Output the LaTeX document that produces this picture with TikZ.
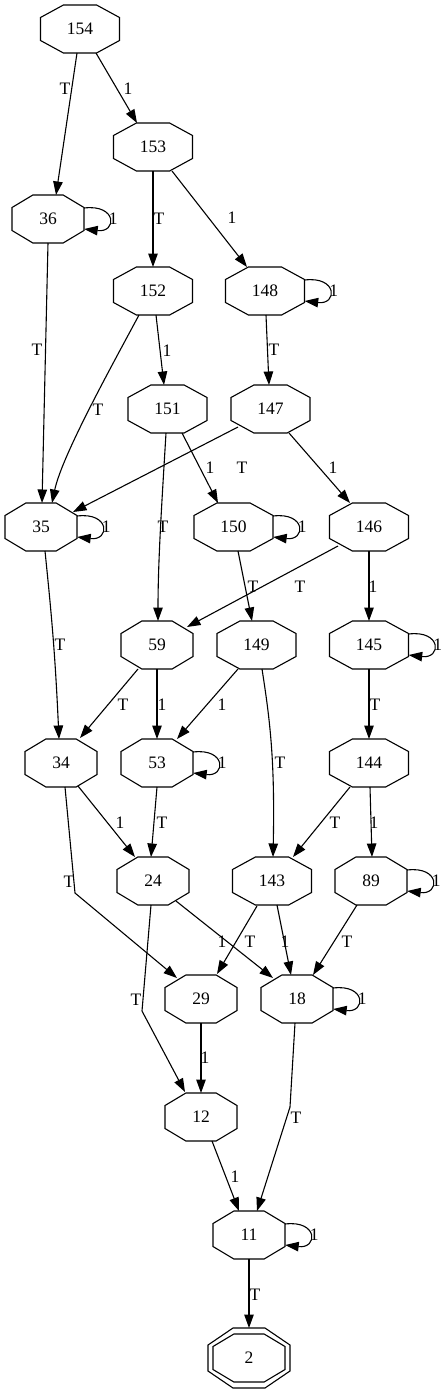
\documentclass[tikz,border=0pt]{standalone}
\usepackage{fontspec}
\setmainfont{Liberation Serif}
\usetikzlibrary{arrows.meta}
\begin{document}
\begin{tikzpicture}[x=1pt,y=-1pt,
  o3/.style={draw=none,minimum width=79pt,minimum height=48pt,inner sep=0pt,font=\fontsize{17.5}{20}\selectfont},
  o2/.style={o3,minimum width=72pt},
  octl/.style={line width=1.1pt,line join=miter},
  conn/.style={draw,line width=1.1pt,-{Triangle[length=13.5pt,width=9.5pt]}},
  lbl/.style={inner sep=0pt,font=\fontsize{17.5}{20}\selectfont}]
\useasboundingbox (0,0) rectangle (447,1393);
% nodes
\node[o3] (n154) at (80,29) {154};
\node[o3] (n153) at (153,147) {153};
\node[o2] (n36) at (48,219) {36};
\node[o3] (n152) at (153,291) {152};
\node[o3] (n148) at (265,291) {148};
\node[o3] (n151) at (167.5,409) {151};
\node[o3] (n147) at (270.5,409) {147};
\node[o2] (n35) at (41,527) {35};
\node[o3] (n150) at (233.5,527) {150};
\node[o3] (n146) at (369,527) {146};
\node[o2] (n59) at (157,645) {59};
\node[o3] (n149) at (256.5,645) {149};
\node[o3] (n145) at (369,645) {145};
\node[o2] (n34) at (61,763) {34};
\node[o2] (n53) at (157,763) {53};
\node[o3] (n144) at (369,763) {144};
\node[o2] (n24) at (153,881) {24};
\node[o3] (n143) at (272,881) {143};
\node[o2] (n89) at (371,881) {89};
\node[o2] (n29) at (201,999) {29};
\node[o2] (n18) at (297,999) {18};
\node[o2] (n12) at (201,1117) {12};
\node[o2] (n11) at (249,1235) {11};
\node[o2,minimum width=82pt,minimum height=60pt] (n2) at (249,1358) {2};
% octagon outlines
\foreach \n/\w in {n154/39.5,n153/39.5,n36/36,n152/39.5,n148/39.5,n151/39.5,n147/39.5,n35/36,n150/39.5,n146/39.5,n59/36,n149/39.5,n145/39.5,n34/36,n53/36,n144/39.5,n24/36,n143/39.5,n89/36,n29/36,n18/36,n12/36,n11/36,n2/36}{
  \draw[octl,shift={(\n.center)}] (-\w,-11.5) -- (-0.42*\w,-24) -- (0.42*\w,-24) -- (\w,-11.5) -- (\w,11.5) -- (0.42*\w,24) -- (-0.42*\w,24) -- (-\w,11.5) -- cycle;
}
\draw[octl,shift={(n2.center)}] (-41,-13) -- (-16,-30) -- (16,-30) -- (41,-13) -- (41,13) -- (16,30) -- (-16,30) -- (-41,13) -- cycle;
% self loops
\foreach \n in {n36,n148,n35,n150,n145,n53,n89,n18,n11}{
  \draw[conn] ([shift={(0,-11)}]\n.east) .. controls +(33,-4) and +(33,4) .. ([shift={(0,10)}]\n.east)
    node[lbl] (l\n) at ([shift={(29,0)}]\n.east) {1};
}
% edges
\draw[conn] ([shift={(-3,24)}]n154.center) -- ([shift={(8,-24)}]n36.center) node[lbl] (e1) at (65,89) {T};
\draw[conn] ([shift={(16,24)}]n154.center) -- ([shift={(-16,-24)}]n153.center) node[lbl] (e2) at (128,89) {1};
\draw[conn] ([shift={(0,24)}]n153.center) -- ([shift={(0,-24)}]n152.center) node[lbl] (e3) at (159,219) {T};
\draw[conn] ([shift={(19,24)}]n153.center) -- ([shift={(-18,-24)}]n148.center) node[lbl] (e4) at (232,218) {1};
\draw[conn] ([shift={(0,24)}]n36.center) -- ([shift={(1,-24)}]n35.center) node[lbl] (e5) at (37,350) {T};
\draw[conn] ([shift={(-14,24)}]n152.center) .. controls (115,360) and (62,455) .. ([shift={(11,-24)}]n35.center) node[lbl] (e6) at (98,410) {T};
\draw[conn] ([shift={(3,24)}]n152.center) -- ([shift={(-3.5,-24)}]n151.center) node[lbl] (e7) at (167,351) {1};
\draw[conn] ([shift={(1,24)}]n148.center) -- ([shift={(-1.5,-24)}]n147.center) node[lbl] (e8) at (274,350) {T};
\draw[conn] ([shift={(-32.5,18)}]n147.center) -- ([shift={(32,-15)}]n35.center) node[lbl] (e9) at (242,468) {T};
\draw[conn] ([shift={(-1.5,24)}]n151.center) .. controls (162,500) and (158,560) .. ([shift={(1,-24)}]n59.center) node[lbl] (e10) at (163,527) {T};
\draw[conn] ([shift={(14.5,24)}]n151.center) -- ([shift={(-15.5,-24)}]n150.center) node[lbl] (e11) at (210,468) {1};
\draw[conn] ([shift={(18.5,24)}]n147.center) -- ([shift={(-19,-24)}]n146.center) node[lbl] (e12) at (333,468) {1};
\draw[conn] ([shift={(4.5,24)}]n150.center) -- ([shift={(-4.5,-24)}]n149.center) node[lbl] (e13) at (253,587) {T};
\draw[conn] ([shift={(-31,19)}]n146.center) -- ([shift={(30,-18)}]n59.center) node[lbl] (e14) at (300,587) {T};
\draw[conn] ([shift={(0,24)}]n146.center) -- ([shift={(0,-24)}]n145.center) node[lbl] (e15) at (373,587) {1};
\draw[conn] ([shift={(4,24)}]n35.center) .. controls (51,610) and (55,650) .. ([shift={(-2,-24)}]n34.center) node[lbl] (e16) at (60,645) {T};
\draw[conn] ([shift={(-19,24)}]n59.center) -- ([shift={(19,-25)}]n34.center) node[lbl] (e17) at (123,705) {T};
\draw[conn] ([shift={(0,24)}]n59.center) -- ([shift={(0,-24)}]n53.center) node[lbl] (e18) at (162,705) {1};
\draw[conn] ([shift={(-18.5,24)}]n149.center) -- ([shift={(20,-24)}]n53.center) node[lbl] (e19) at (222,705) {1};
\draw[conn] ([shift={(5.5,24)}]n149.center) .. controls (270,720) and (275,760) .. ([shift={(1,-24)}]n143.center) node[lbl] (e20) at (280,763) {T};
\draw[conn] ([shift={(0,24)}]n145.center) -- ([shift={(0,-24)}]n144.center) node[lbl] (e21) at (375,705) {T};
\draw[conn] ([shift={(17,23)}]n34.center) -- ([shift={(-18,-24)}]n24.center) node[lbl] (e22) at (120,823) {1};
\draw[conn] ([shift={(0,24)}]n53.center) -- ([shift={(-2,-24)}]n24.center) node[lbl] (e23) at (162,823) {T};
\draw[conn] ([shift={(-19,24)}]n144.center) -- ([shift={(21,-24)}]n143.center) node[lbl] (e24) at (335,823) {T};
\draw[conn] ([shift={(1,24)}]n144.center) -- ([shift={(1,-24)}]n89.center) node[lbl] (e25) at (374,823) {1};
\draw[conn] ([shift={(4,24)}]n34.center) -- (75,893) -- ([shift={(-24,-21)}]n29.center) node[lbl] (e26) at (69,882) {T};
\draw[conn] ([shift={(-2,24)}]n24.center) -- (142,1011) -- ([shift={(-16,-25)}]n12.center) node[lbl] (e27) at (136,1000) {T};
\draw[conn] ([shift={(23,20)}]n24.center) -- ([shift={(-24,-21)}]n18.center) node[lbl] (e28) at (222,942) {1};
\draw[conn] ([shift={(-15,25)}]n143.center) -- ([shift={(16,-25)}]n29.center) node[lbl] (e29) at (250,942) {T};
\draw[conn] ([shift={(5,24)}]n143.center) -- ([shift={(-6,-24)}]n18.center) node[lbl] (e30) at (285,942) {1};
\draw[conn] ([shift={(-14,24)}]n89.center) -- ([shift={(16,-24)}]n18.center) node[lbl] (e31) at (347,942) {T};
\draw[conn] ([shift={(0,24)}]n29.center) -- ([shift={(0,-24)}]n12.center) node[lbl] (e32) at (205,1058) {1};
\draw[conn] ([shift={(-2,24)}]n18.center) -- (290,1107) -- ([shift={(8,-24)}]n11.center) node[lbl] (e33) at (296,1118) {T};
\draw[conn] ([shift={(11,24)}]n12.center) -- ([shift={(-10,-24)}]n11.center) node[lbl] (e34) at (235,1177) {1};
\draw[conn] ([shift={(0,24)}]n11.center) -- ([shift={(0,-30)}]n2.center) node[lbl] (e35) at (255,1295) {T};
\end{tikzpicture}
\end{document}
